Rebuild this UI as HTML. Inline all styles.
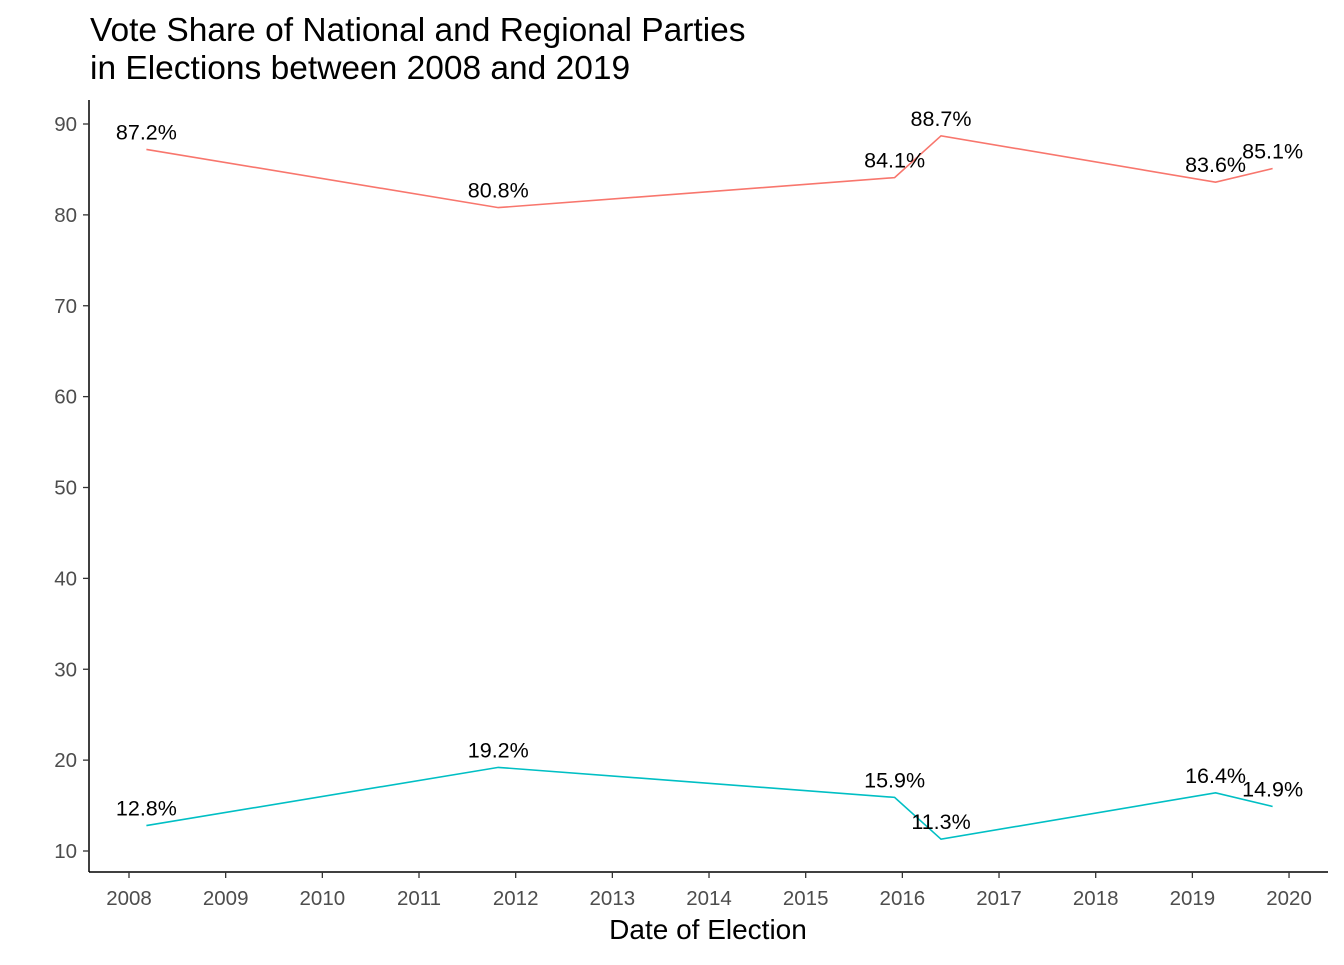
<!DOCTYPE html>
<html><head><meta charset="utf-8"><style>
body{margin:0;background:#fff;}
svg{font-family:"Liberation Sans",Arial,sans-serif;}
</style></head><body>
<svg id="chart" width="1344" height="960">
<text x="90" y="41" font-size="33.5" fill="#000">Vote Share of National and Regional Parties</text>
<text x="90" y="79" font-size="33.5" fill="#000">in Elections between 2008 and 2019</text>
<text x="708" y="939" font-size="28" text-anchor="middle" fill="#000">Date of Election</text>
<g id="axes"></g>
<g id="series"></g>
</svg>
<script>
const dates=[2008.18,2011.82,2015.92,2016.40,2019.24,2019.83];
const national=[87.2,80.8,84.1,88.7,83.6,85.1];
const regional=[12.8,19.2,15.9,11.3,16.4,14.9];
const yTicks=[10,20,30,40,50,60,70,80,90];
const xTicks=[2008,2009,2010,2011,2012,2013,2014,2015,2016,2017,2018,2019,2020];
const NS="http://www.w3.org/2000/svg";
const xs=v=>129+(v-2008)*96.67;
const ys=v=>851-(v-10)*9.0875;
const axes=document.getElementById('axes'),series=document.getElementById('series');
function mk(tag,attrs,parent,text){const e=document.createElementNS(NS,tag);for(const k in attrs)e.setAttribute(k,attrs[k]);if(text!==undefined)e.textContent=text;parent.appendChild(e);return e;}
let yl=mk('line',{x1:89,y1:100,x2:89,y2:872,stroke:'#000','stroke-width':1.5},axes);


let xl=mk('line',{x1:89,y1:872,x2:1328,y2:872,stroke:'#000','stroke-width':1.5},axes);


yTicks.forEach(t=>{const y=ys(t);
 const tk=mk('line',{x1:83,y1:y,x2:89,y2:y,stroke:'#333','stroke-width':1.3},axes);
 
 
 const lb=mk('text',{x:77,y:y+7,'font-size':20.5,'text-anchor':'end',fill:'#4d4d4d'},axes,String(t));
 
 });
xTicks.forEach(t=>{const x=xs(t);
 const tk=mk('line',{x1:x,y1:872,x2:x,y2:878,stroke:'#333','stroke-width':1.3},axes);
 
 
 const lb=mk('text',{x:x,y:905,'font-size':20.5,'text-anchor':'middle',fill:'#4d4d4d'},axes,String(t));
 
 });
[[national,'#F8766D','national'],[regional,'#00BFC4','regional']].forEach(([vals,col,nm])=>{
 const pts=vals.map((v,i)=>xs(dates[i])+','+ys(v)).join(' ');
 const pl=mk('polyline',{points:pts,fill:'none',stroke:col,'stroke-width':1.6},series);
 
 
 vals.forEach((v,i)=>{
  const lb=mk('text',{x:xs(dates[i]),y:ys(v)-10,'font-size':21.5,'text-anchor':'middle',fill:'#000'},series,v.toFixed(1)+'%');
  
  });
});
</script>
</body></html>
